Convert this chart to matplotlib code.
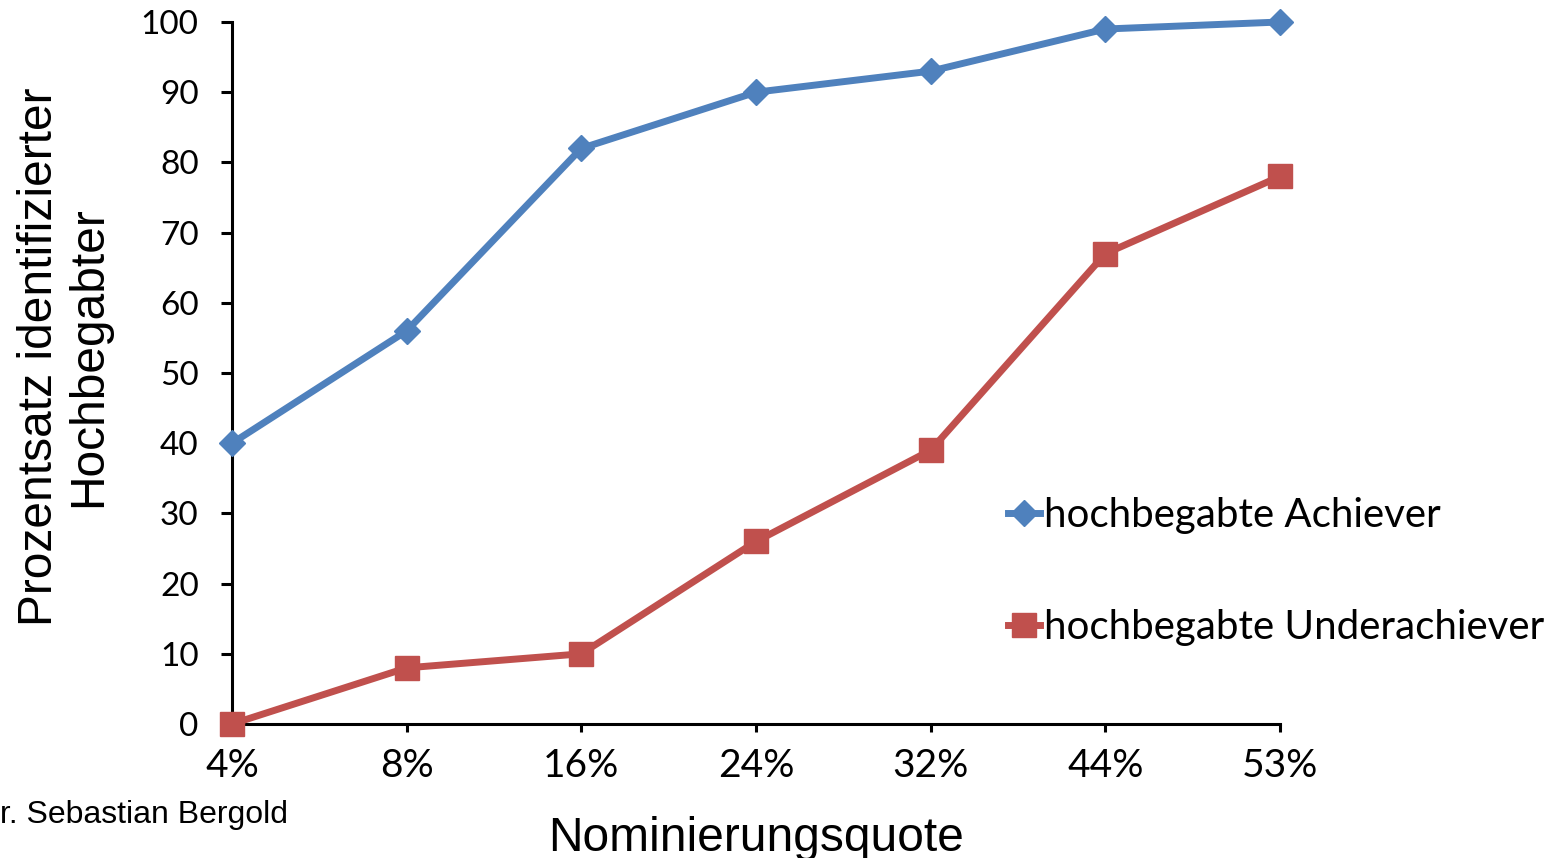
import matplotlib
matplotlib.use("Agg")
import matplotlib.pyplot as plt
from matplotlib.lines import Line2D

categories = ["4%", "8%", "16%", "24%", "32%", "44%", "53%"]
achiever = [40, 56, 82, 90, 93, 99, 100]
underachiever = [0, 8, 10, 26, 39, 67, 78]
series_names = ["hochbegabte Achiever", "hochbegabte Underachiever"]
yticks = [0, 10, 20, 30, 40, 50, 60, 70, 80, 90, 100]

blue = "#4F81BD"
red = "#C0504D"
tick_font = "Lato"
label_font = "Liberation Sans"

fig = plt.figure(figsize=(15.6, 8.58), dpi=100)
ax = fig.add_axes([232/1560, 134/858, (1280-232)/1560, (724-22)/858])

x = list(range(len(categories)))
ax.plot(x, achiever, color=blue, lw=5, marker="D", ms=13, clip_on=False, zorder=3)
ax.plot(x, underachiever, color=red, lw=5, marker="s", ms=17, clip_on=False, zorder=3)

ax.set_xlim(0, len(categories) - 1)
ax.set_ylim(0, 100)
ax.set_xticks(x)
ax.set_xticklabels(categories, fontfamily=tick_font, fontsize=28)
ax.set_yticks(yticks)
ax.set_yticklabels([str(v) for v in yticks], fontfamily=tick_font, fontsize=24)

for s in ["top", "right"]:
    ax.spines[s].set_visible(False)
for s in ["left", "bottom"]:
    ax.spines[s].set_linewidth(2.2)
    ax.spines[s].set_color("black")
ax.tick_params(axis="y", direction="out", length=8, width=2.2, pad=16)
ax.tick_params(axis="x", direction="out", length=6, width=2.2, pad=11)

ax.set_xlabel("Nominierungsquote", fontfamily=label_font, fontsize=34.5, labelpad=23)
ax.set_ylabel("Prozentsatz identifizierter\nHochbegabter", fontfamily=label_font,
              fontsize=34.5, linespacing=1.1)
ax.yaxis.set_label_coords(-0.1155, 0.5235)

handles = [
    Line2D([], [], color=blue, lw=5, marker="D", ms=13),
    Line2D([], [], color=red, lw=5, marker="s", ms=17),
]
leg = ax.legend(handles, series_names, loc="upper left", bbox_to_anchor=(992/1560, 1 - 481/858),
                bbox_transform=fig.transFigure, frameon=False, handlelength=0.8,
                handletextpad=0.08, labelspacing=1.85, borderaxespad=0,
                prop={"family": tick_font, "size": 29})

fig.text(0, 858 - 815, "r. Sebastian Bergold", fontfamily=label_font, fontsize=23,
         transform=None, va="center", ha="left")

fig.savefig("out.png", dpi=100)
